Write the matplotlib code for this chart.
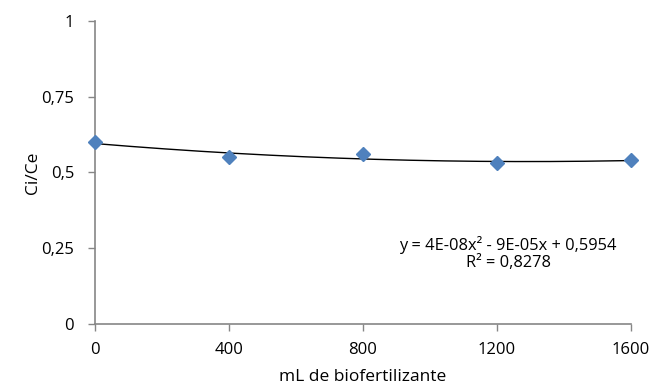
import numpy as np
import matplotlib.pyplot as plt

plt.rcParams['font.family'] = ['Open Sans', 'DejaVu Sans']

# data
dose = [0, 400, 800, 1200, 1600]
ratio = [0.60, 0.55, 0.56, 0.53, 0.54]
y_ticks = [0, 0.25, 0.5, 0.75, 1]
y_labels = ['0', '0,25', '0,5', '0,75', '1']
x_ticks = [0, 400, 800, 1200, 1600]
eq_text = 'y = 4E-08x² - 9E-05x + 0,5954'
r2_text = 'R² = 0,8278'

fig = plt.figure(figsize=(6.57, 3.88), dpi=100)
ax = fig.add_axes([0.1446, 0.165, 0.8158, 0.781])

# 2nd order polynomial trendline fitted to the points
coef = np.polyfit(dose, ratio, 2)
xs = np.linspace(0, 1600, 200)
ax.plot(xs, np.polyval(coef, xs), color='black', lw=1.0, zorder=2)
ax.plot(dose, ratio, linestyle='none', marker='D', ms=7.5, color='#4F81BD',
        markeredgecolor='#4F81BD', zorder=3, clip_on=False)

ax.set_xlim(0, 1600)
ax.set_ylim(0, 1)
ax.set_xticks(x_ticks)
ax.set_xticklabels([str(v) for v in x_ticks])
ax.set_yticks(y_ticks)
ax.set_yticklabels(y_labels)

for s in ['top', 'right']:
    ax.spines[s].set_visible(False)
for s in ['left', 'bottom']:
    ax.spines[s].set_color('#868686')
    ax.spines[s].set_linewidth(1.2)
ax.tick_params(direction='out', length=5, width=1, color='#868686',
               labelsize=12, labelcolor='black')
ax.tick_params(axis='x', pad=8)
ax.tick_params(axis='y', pad=10)

ax.set_xlabel('mL de biofertilizante', fontsize=12.5, labelpad=8)
ax.set_ylabel('Ci/Ce', fontsize=12.5, labelpad=0)

ax.text(1233, 0.261, eq_text, fontsize=11.8, ha='center', va='center')
ax.text(1233, 0.201, r2_text, fontsize=11.8, ha='center', va='center')

fig.savefig('out.png', dpi=100)
